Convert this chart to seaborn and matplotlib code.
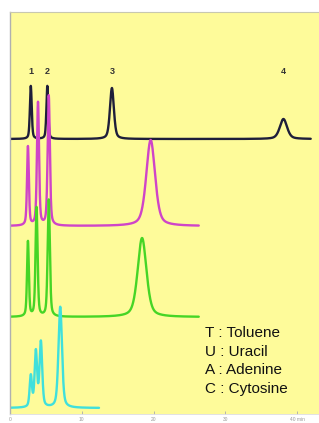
import numpy as np
import pandas as pd
import matplotlib
matplotlib.use("Agg")
import matplotlib.pyplot as plt
import seaborn as sns

# 피크 테이블 (머무름 시간 [min], 높이, 반치폭 FWHM [min]) - 그림에서 읽은 값
black_rt = [2.9, 5.2, 14.2, 38.1]
black_h = [53, 53, 51, 20]
black_fwhm = [0.3, 0.3, 0.65, 1.2]
black_base = 275
black_end = 41.9

magenta_rt = [2.5, 3.9, 5.4, 19.6]
magenta_h = [79, 123, 130, 86]
magenta_fwhm = [0.3, 0.34, 0.36, 1.45]
magenta_base = 188
magenta_end = 26.3

green_rt = [2.5, 3.7, 5.4, 18.4]
green_h = [75, 109, 117, 79]
green_fwhm = [0.3, 0.34, 0.36, 1.45]
green_base = 97
green_end = 26.3

cyan_rt = [2.9, 3.6, 4.3, 7.0]
cyan_h = [31, 55, 65, 101]
cyan_fwhm = [0.38, 0.4, 0.44, 0.58]
cyan_base = 6
cyan_end = 12.4

peak_labels = ["1", "2", "3", "4"]
legend_lines = ["T : Toluene", "U : Uracil", "A : Adenine", "C : Cytosine"]
tick_vals = [0, 10, 20, 30, 40]
tick_text = ["0", "10", "20", "30", "40 min"]


def trace(rts, hs, fw, base, end):
    # 가우스 + 로렌츠 혼합 피크 모양 (꼬리가 있는 크로마토그램 피크)
    t = np.linspace(0.05, end, 2000)
    y = np.full_like(t, float(base))
    for rt, h, f in zip(rts, hs, fw):
        u = (t - rt) / f
        g = np.exp(-4 * np.log(2) * u ** 2)
        lor = 1 / (1 + 4 * u ** 2)
        y += h * (0.55 * g + 0.45 * lor)
    return pd.DataFrame({"time": t, "signal": y})


sns.set_theme(style="white")
plt.rcParams["font.family"] = ["Liberation Sans", "DejaVu Sans"]

fig = plt.figure(figsize=(3.19, 4.23), dpi=100)
ax = fig.add_axes([10 / 319, 1 - 414 / 423, 1 - 10 / 319 + 0.01, 402 / 423])
ax.set_facecolor("#fefb9a")

traces = [
    (black_rt, black_h, black_fwhm, black_base, black_end, "#1e1e3a"),
    (magenta_rt, magenta_h, magenta_fwhm, magenta_base, magenta_end, "#cf44c8"),
    (green_rt, green_h, green_fwhm, green_base, green_end, "#46d526"),
    (cyan_rt, cyan_h, cyan_fwhm, cyan_base, cyan_end, "#40e0dc"),
]
for rts, hs, fw, base, end, col in traces:
    df = trace(rts, hs, fw, base, end)
    sns.lineplot(data=df, x="time", y="signal", ax=ax, color=col,
                 linewidth=1.7, estimator=None, sort=False)

for rt, lab in zip(black_rt, peak_labels):
    ax.text(rt, 342, lab, ha="center", va="center", fontsize=6.5,
            fontweight="bold", color="#333333")

ax.set_xlim(0, 43.5)
ax.set_ylim(0, 402)
ax.set_xlabel("")
ax.set_ylabel("")
ax.set_yticks([])
ax.set_xticks(tick_vals)
ax.set_xticklabels(tick_text)
ax.tick_params(axis="x", direction="in", length=2, width=0.6, colors="#aaaaaa",
               labelsize=3.5, labelcolor="#999999", pad=2, bottom=True)

for s in ["left", "top", "bottom"]:
    ax.spines[s].set_visible(True)
ax.spines["left"].set_color("#b0b0b0")
ax.spines["left"].set_linewidth(1.0)
ax.spines["top"].set_color("#c8c8b0")
ax.spines["top"].set_linewidth(0.8)
ax.spines["bottom"].set_color("#dddddd")
ax.spines["bottom"].set_linewidth(0.6)
ax.spines["right"].set_visible(False)

for i, line in enumerate(legend_lines):
    fig.text(205 / 319, 1 - (333 + i * 18.7) / 423, line, ha="left", va="center",
             fontsize=11, color="#111111")

fig.savefig("out.png", dpi=100)
